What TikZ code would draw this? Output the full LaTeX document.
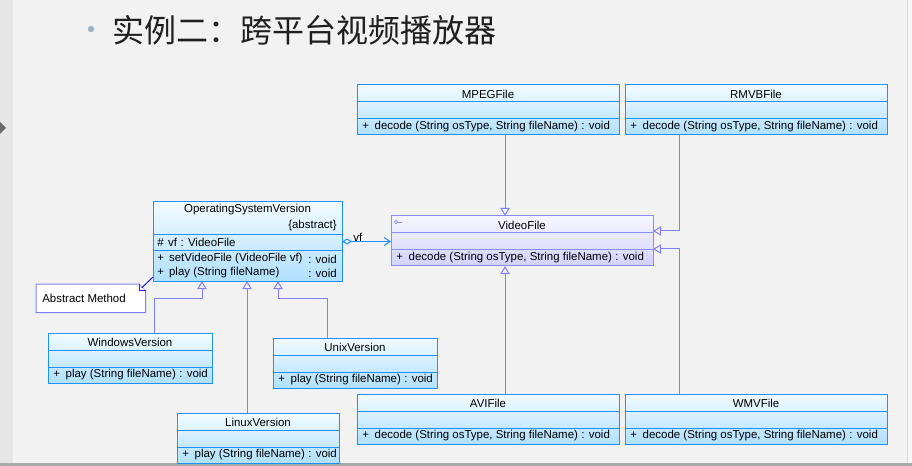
\documentclass[tikz,border=0pt]{standalone}
\usepackage{fontspec}
\setmainfont{Liberation Sans}
\newfontfamily\cjk{Noto Sans CJK SC}
\usepackage{xcolor}
\usepackage{tikz}
\usetikzlibrary{arrows.meta,calc}

\definecolor{slide}{RGB}{242,242,242}
\definecolor{slideedge}{RGB}{230,230,230}
\definecolor{bulletgray}{RGB}{160,176,190}
\definecolor{classblue}{RGB}{30,144,255}
\definecolor{classtop}{RGB}{242,251,255}
\definecolor{classbottom}{RGB}{176,224,255}
\definecolor{ifaceline}{RGB}{140,140,255}
\definecolor{ifacetop}{RGB}{246,246,255}
\definecolor{ifacebottom}{RGB}{210,210,255}
\definecolor{genline}{RGB}{128,128,255}
\definecolor{notelink}{RGB}{30,30,255}

% class box: [kind]{name}{x}{y}{width}{title}{operation}
\newcommand{\umlclass}[7][class]{%
  \node[#1 box, minimum width=#5*0.75pt, anchor=north west] (#2) at (#3,#4) {};
  \draw[#1 rule] ($(#2.north west)+(0,17)$) -- ($(#2.north east)+(0,17)$);
  \draw[#1 rule] ($(#2.north west)+(0,34)$) -- ($(#2.north east)+(0,34)$);
  \node[uml text] at ($(#2.north)+(0,9)$) {#6};
  \node[uml text, anchor=west] at ($(#2.north west)+(5,42)$) {+\hspace{0.5em}#7};
}

\begin{document}
\begin{tikzpicture}[x=0.75pt, y=-0.75pt]
        \tikzset{class box/.style={draw=classblue, line width=0.75pt, top color=classtop, bottom color=classbottom, inner sep=0pt, outer sep=0pt, minimum height=37.5pt}}
        \tikzset{class rule/.style={draw=classblue, line width=0.75pt}}
        \tikzset{iface box/.style={draw=ifaceline, line width=0.75pt, top color=ifacetop, bottom color=ifacebottom, inner sep=0pt, outer sep=0pt, minimum height=37.5pt}}
        \tikzset{iface rule/.style={draw=ifaceline, line width=0.75pt}}
        \tikzset{uml text/.style={font=\fontsize{8.6}{10}\selectfont, inner sep=0pt, text=black}}
        \tikzset{gen line/.style={draw=genline, line width=0.75pt, -{Triangle[open, length=6pt, width=7pt]}}}
        \tikzset{agg line/.style={draw=classblue, line width=0.75pt, {Diamond[open, length=7.5pt, width=4.5pt]}-{Straight Barb[length=4.5pt, width=6pt]}}}

        % slide background
        \useasboundingbox (0,0) rectangle (912,466);
        \fill[slide] (0,0) rectangle (912,466);
        \fill[slideedge] (0,0) rectangle (13,466);
        \fill[black!58] (0,122) -- (6,128) -- (0,134) -- cycle;
        \fill[white!97!black] (907,0) rectangle (912,463);
        \draw[black!14, line width=0.75pt] (907,0) -- (907,463);
        \fill[black!33] (0,463) rectangle (912,466);

        % title
        \fill[bulletgray] (91,29) circle (2.4pt);
        \node[anchor=west, inner sep=0pt, text=black!88, font=\fontsize{24}{28}\selectfont] (title) at (112,30) {\cjk 实例二：跨平台视频播放器};

        % video files
        \umlclass{mpeg}{357}{85}{262}{MPEGFile}{decode (String osType, String fileName)\hspace{0.3em}: void}
        \umlclass{rmvb}{625}{85}{262}{RMVBFile}{decode (String osType, String fileName)\hspace{0.3em}: void}
        \umlclass[iface]{vfile}{391}{216}{262}{VideoFile}{decode (String osType, String fileName)\hspace{0.3em}: void}
        \umlclass{avi}{357}{394}{262}{AVIFile}{decode (String osType, String fileName)\hspace{0.3em}: void}
        \umlclass{wmv}{625}{394}{262}{WMVFile}{decode (String osType, String fileName)\hspace{0.3em}: void}
        \draw[iface rule, line width=0.6pt] ($(vfile.north west)+(5,6)$) circle (1.2pt);
        \draw[iface rule, line width=0.6pt] ($(vfile.north west)+(6.6,6)$) -- ($(vfile.north west)+(11,6)$);

        % operating systems
        \node[class box, minimum width=189*0.75pt, minimum height=79*0.75pt, anchor=north west] (osv) at (153,202) {};
        \draw[class rule] ($(osv.north west)+(0,33)$) -- ($(osv.north east)+(0,33)$);
        \draw[class rule] ($(osv.north west)+(0,49)$) -- ($(osv.north east)+(0,49)$);
        \node[uml text] at ($(osv.north)+(0,8)$) {OperatingSystemVersion};
        \node[uml text, anchor=east] at ($(osv.north east)+(-5,24)$) {\{abstract\}};
        \node[uml text, anchor=west] at ($(osv.north west)+(4,40)$) {\#\hspace{0.4em}vf\hspace{0.3em}: VideoFile};
        \node[uml text, anchor=west] at ($(osv.north west)+(4,57)$) {+\hspace{0.45em}setVideoFile (VideoFile vf)};
        \node[uml text, anchor=west] at ($(osv.north west)+(4,71)$) {+\hspace{0.45em}play (String fileName)};
        \node[uml text, anchor=west] at ($(osv.north west)+(155,57)$) {: void};
        \node[uml text, anchor=west] at ($(osv.north west)+(155,71)$) {: void};

        \umlclass{win}{48}{333}{164}{WindowsVersion}{play (String fileName)\hspace{0.3em}: void}
        \umlclass{unix}{273}{338}{164}{UnixVersion}{play (String fileName)\hspace{0.3em}: void}
        \umlclass{linux}{177}{413}{162}{LinuxVersion}{play (String fileName)\hspace{0.3em}: void}

        % note
        \node[fill=white, inner sep=0pt, minimum width=109*0.75pt, minimum height=28*0.75pt, anchor=north west] (note) at (36,284) {};
        \draw[genline, line width=0.75pt] (note.north west) -- ($(note.north east)+(-6,0)$) -- ($(note.north east)+(0,6)$) -- (note.south east) -- (note.south west) -- cycle;
        \fill[slide] ($(note.north east)+(-6,0)$) -- (note.north east) -- ($(note.north east)+(0,6)$) -- cycle;
        \draw[notelink, line width=0.75pt] ($(note.north east)+(-6,0)$) -- ($(note.north east)+(-6,6)$) -- ($(note.north east)+(0,6)$);
        \node[uml text, anchor=west] at ($(note.west)+(6,0)$) {Abstract Method};
        \draw[notelink, line width=0.75pt] ($(note.north east)+(-4,4)$) -- ($(osv.south west)+(0,-4)$);

        % relations
        \draw[agg line] (osv.east) -- (osv.east -| vfile.west);
        \node[uml text, anchor=south west] at ($(osv.east)+(11,0)$) {vf};
        \draw[gen line] ($(mpeg.south west)+(148,0)$) -- ($(vfile.north west)+(114,0)$);
        \draw[gen line] ($(avi.north west)+(148,0)$) -- ($(vfile.south west)+(114,0)$);
        \draw[gen line] ($(rmvb.south west)+(54,0)$) |- ($(vfile.north east)+(0,15)$);
        \draw[gen line] ($(wmv.north west)+(54,0)$) |- ($(vfile.north east)+(0,33)$);
        \draw[gen line] ($(win.north west)+(106,0)$) |- ($(osv.south west)+(49,17)$) -- ($(osv.south west)+(49,0)$);
        \draw[gen line] ($(linux.north west)+(70,0)$) -- ($(osv.south west)+(94,0)$);
        \draw[gen line] ($(unix.north west)+(54,0)$) |- ($(osv.south west)+(125,17)$) -- ($(osv.south west)+(125,0)$);
    \end{tikzpicture}
\end{document}
